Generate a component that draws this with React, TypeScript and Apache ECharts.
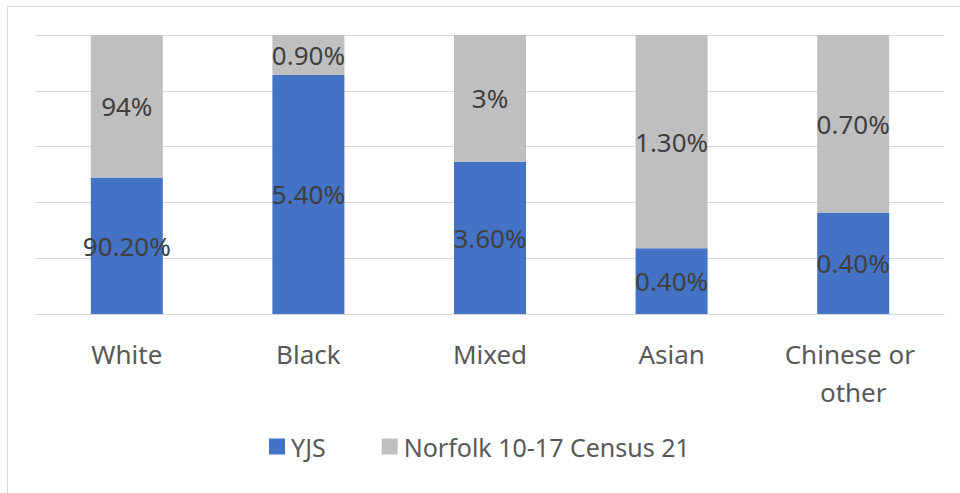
import React, { useEffect, useRef } from "react";
import * as echarts from "echarts";

const categories = ["White", "Black", "Mixed", "Asian", "Chinese or other"];
const yjsValues = [90.2, 5.4, 3.6, 0.4, 0.4];
const norfolkValues = [94, 0.9, 3, 1.3, 0.7];
const yjsLabels = ["90.20%", "5.40%", "3.60%", "0.40%", "0.40%"];
const norfolkLabels = ["94%", "0.90%", "3%", "1.30%", "0.70%"];
const seriesNames = ["YJS", "Norfolk 10-17 Census 21"];

export default function App() {
  const ref = useRef<HTMLDivElement>(null);
  useEffect(() => {
    if (!ref.current) return;
    const chart = echarts.init(ref.current, undefined, { renderer: "svg" });
    const totals = yjsValues.map((v, i) => v + norfolkValues[i]);
    const yjsShare = yjsValues.map((v, i) => (v / totals[i]) * 100);
    const norfolkShare = norfolkValues.map((v, i) => (v / totals[i]) * 100);
    const font = "'Noto Sans', 'Open Sans', sans-serif";
    const labelStyle = (labels: string[]) => ({
      show: true,
      position: "inside" as const,
      color: "#404040",
      fontSize: 26,
      fontFamily: font,
      formatter: (p: any) => labels[p.dataIndex],
    });
    chart.setOption({
      animation: false,
      backgroundColor: "#ffffff",
      graphic: [
        {
          type: "rect",
          shape: { x: 7.5, y: 6.5, width: 1200, height: 1200 },
          style: { fill: "none", stroke: "#d9d9d9", lineWidth: 1 },
          silent: true,
        },
      ],
      grid: { left: 36, right: 16, top: 35, bottom: 179, containLabel: false },
      legend: {
        data: seriesNames,
        bottom: 29,
        left: 264,
        itemWidth: 16,
        itemHeight: 16,
        itemGap: 56,
        icon: "rect",
        textStyle: { color: "#595959", fontSize: 25, fontFamily: font, padding: [0, 0, 0, 1] },
      },
      xAxis: {
        type: "category",
        data: categories,
        axisLine: { show: true, lineStyle: { color: "#d9d9d9", width: 1 } },
        axisTick: { show: false },
        axisLabel: {
          interval: 0,
          color: "#595959",
          fontSize: 26,
          fontFamily: font,
          lineHeight: 38,
          margin: 21,
          width: 170,
          overflow: "break",
        },
      },
      yAxis: {
        type: "value",
        min: 0,
        max: 100,
        interval: 20,
        axisLabel: { show: false },
        axisLine: { show: false },
        axisTick: { show: false },
        splitLine: { show: true, lineStyle: { color: "#d9d9d9", width: 1 } },
      },
      series: [
        {
          name: seriesNames[0],
          type: "bar",
          stack: "total",
          barWidth: 72,
          data: yjsShare,
          itemStyle: { color: "#4472C4" },
          label: labelStyle(yjsLabels),
        },
        {
          name: seriesNames[1],
          type: "bar",
          stack: "total",
          barWidth: 72,
          data: norfolkShare,
          itemStyle: { color: "#BFBFBF" },
          label: labelStyle(norfolkLabels),
        },
      ],
    });
    return () => chart.dispose();
  }, []);
  return (
    <div
      ref={ref}
      style={{ position: "fixed", left: 0, top: 0, width: 960, height: 493 }}
    />
  );
}
